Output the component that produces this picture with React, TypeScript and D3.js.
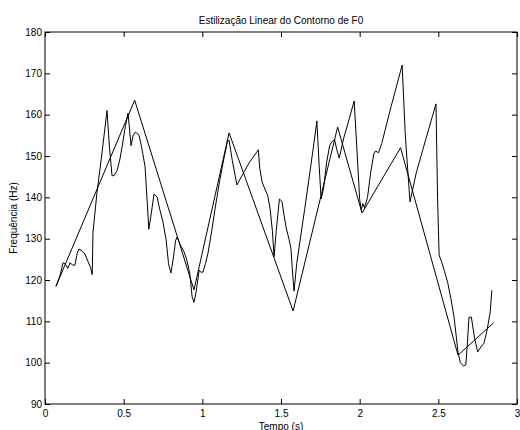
import * as d3 from "d3";
import { useEffect, useRef } from "react";

// contorno de F0 medido (tempo em s, frequencia em Hz)
const rawTime = [
  0.07, 0.095, 0.115, 0.13, 0.145, 0.16, 0.175, 0.19, 0.205, 0.216, 0.235, 0.254, 0.273, 0.29, 0.3,
  0.305, 0.33, 0.36, 0.394, 0.41, 0.426, 0.44, 0.458, 0.475, 0.49, 0.51, 0.528, 0.547, 0.56, 0.575,
  0.598, 0.615, 0.636, 0.648, 0.66, 0.675, 0.693, 0.712, 0.73, 0.75, 0.77, 0.785, 0.8, 0.815, 0.83,
  0.84, 0.86, 0.884, 0.9, 0.92, 0.935, 0.947, 0.96, 0.98, 0.99, 1.004, 1.02, 1.036, 1.06, 1.08,
  1.11, 1.14, 1.16, 1.17, 1.19, 1.22, 1.26, 1.3, 1.356, 1.365, 1.38, 1.4, 1.415, 1.43, 1.445,
  1.456, 1.47, 1.49, 1.506, 1.52, 1.532, 1.55, 1.563, 1.575, 1.583, 1.6, 1.65, 1.7, 1.728, 1.742,
  1.755, 1.77, 1.79, 1.81, 1.825, 1.84, 1.855, 1.87, 1.9, 1.93, 1.965, 1.985, 2.0, 2.01, 2.02,
  2.03, 2.05, 2.07, 2.09, 2.1, 2.12, 2.14, 2.2, 2.27, 2.29, 2.32, 2.36, 2.42, 2.485,
  2.495, 2.505, 2.52, 2.54, 2.56, 2.58, 2.6, 2.615, 2.625, 2.64, 2.66, 2.675, 2.685, 2.695, 2.71,
  2.73, 2.75, 2.77, 2.79, 2.81, 2.83, 2.84,
];
const rawF0 = [
  118.5, 121, 124.2, 123.8, 122.8, 124.2, 123.6, 123.6, 126.5, 127.5, 127, 126.3, 124.5, 123, 121.3,
  131.6, 141, 150, 161, 152, 145.2, 145.3, 146.5, 149, 152.2, 157, 160.4, 152.5, 155, 155.8,
  155, 152, 147.4, 140, 132.3, 136, 140.8, 140.1, 137, 134, 129.7, 124, 121.7, 125, 129.5,
  130.4, 128.5, 126.8, 125, 121.7, 116, 114.6, 117, 122.4, 121.9, 121.9, 124, 126.5, 132, 137,
  144, 150, 153.6, 153.8, 149, 143, 145.8, 148.5, 151.5, 147, 143.7, 141.8, 140.5, 137.4, 132,
  125.6, 132, 139.6, 139, 135.5, 132.8, 130, 127.7, 121, 117.3, 124, 137, 150.5, 158.5, 148,
  139.6, 142, 148.5, 152.6, 153.5, 154, 151.5, 149.5, 154.5, 158.5, 163.3, 150, 139.5, 137, 138.5,
  137.5, 140, 146, 150.5, 151.2, 150.8, 153, 162, 172, 155, 138.9, 146, 154, 162.6,
  140, 126, 124.5, 122, 119.3, 115.5, 111, 106, 102.5, 100, 99.2, 99.5, 105, 111, 111,
  106, 102.6, 103.8, 104.7, 107.9, 112.3, 117.5,
];

// estilizacao linear (vertices)
const styTime = [0.07, 0.57, 0.947, 1.17, 1.577, 1.86, 2.015, 2.26, 2.625, 2.85];
const styF0 = [118.5, 163.5, 117.6, 155.6, 112.5, 157, 136.2, 152, 101.8, 109.6];

const xTicks = [0, 0.5, 1, 1.5, 2, 2.5, 3];
const yTicks = [90, 100, 110, 120, 130, 140, 150, 160, 170, 180];

function App() {
  const ref = useRef<SVGSVGElement>(null);

  useEffect(() => {
    const svg = d3.select(ref.current);
    svg.selectAll("*").remove();

    const left = 45, right = 517, top = 32, bottom = 404;
    const font = "Arial, 'Liberation Sans', Helvetica, sans-serif";

    const x = d3.scaleLinear().domain([0, 3]).range([left, right]);
    const y = d3.scaleLinear().domain([90, 180]).range([bottom, top]);

    const fmt = (d: any) => String(d);

    // eixos com marcas para dentro
    const styleAxis = (g: any) => {
      g.attr("font-family", font).attr("font-size", 10);
      g.select(".domain").remove();
      g.selectAll(".tick line").attr("stroke", "#000");
      g.selectAll(".tick text").attr("fill", "#000");
    };

    svg.append("g")
      .attr("transform", `translate(0,${bottom})`)
      .call(d3.axisBottom(x).tickValues(xTicks).tickFormat(fmt).tickSize(-5).tickPadding(6))
      .call(styleAxis);
    svg.append("g")
      .attr("transform", `translate(0,${top})`)
      .call(d3.axisTop(x).tickValues(xTicks).tickFormat(() => "").tickSize(-5))
      .call(styleAxis);
    svg.append("g")
      .attr("transform", `translate(${left},0)`)
      .call(d3.axisLeft(y).tickValues(yTicks).tickFormat(fmt).tickSize(-5).tickPadding(3))
      .call(styleAxis);
    svg.append("g")
      .attr("transform", `translate(${right},0)`)
      .call(d3.axisRight(y).tickValues(yTicks).tickFormat(() => "").tickSize(-5))
      .call(styleAxis);

    // caixa
    svg.append("rect")
      .attr("x", left)
      .attr("y", top)
      .attr("width", right - left)
      .attr("height", bottom - top)
      .attr("fill", "none")
      .attr("stroke", "#000")
      .attr("stroke-width", 1);

    const rawLine = d3
      .line<number>()
      .x((d) => x(rawTime[d]))
      .y((d) => y(rawF0[d]));
    const styLine = d3
      .line<number>()
      .x((d) => x(styTime[d]))
      .y((d) => y(styF0[d]));

    svg.append("path")
      .datum(d3.range(rawTime.length))
      .attr("fill", "none")
      .attr("stroke", "#000")
      .attr("stroke-width", 1)
      .attr("d", rawLine);

    svg.append("path")
      .datum(d3.range(styTime.length))
      .attr("fill", "none")
      .attr("stroke", "#000")
      .attr("stroke-width", 1)
      .attr("d", styLine);

    // textos
    svg.append("text")
      .attr("x", (left + right) / 2)
      .attr("y", 24)
      .attr("text-anchor", "middle")
      .attr("font-family", font)
      .attr("font-size", 10)
      .text("Estilização Linear do Contorno de F0");

    svg.append("text")
      .attr("x", (left + right) / 2)
      .attr("y", 430)
      .attr("text-anchor", "middle")
      .attr("font-family", font)
      .attr("font-size", 10)
      .text("Tempo (s)");

    svg.append("text")
      .attr("transform", `translate(17,${(top + bottom) / 2}) rotate(-90)`)
      .attr("text-anchor", "middle")
      .attr("font-family", font)
      .attr("font-size", 10)
      .text("Frequência (Hz)");
  }, []);

  return (
    <div style={{ position: "absolute", left: 0, top: 0 }}>
      <svg ref={ref} width={520} height={430} style={{ display: "block", background: "#fff" }} />
    </div>
  );
}

export default App;
